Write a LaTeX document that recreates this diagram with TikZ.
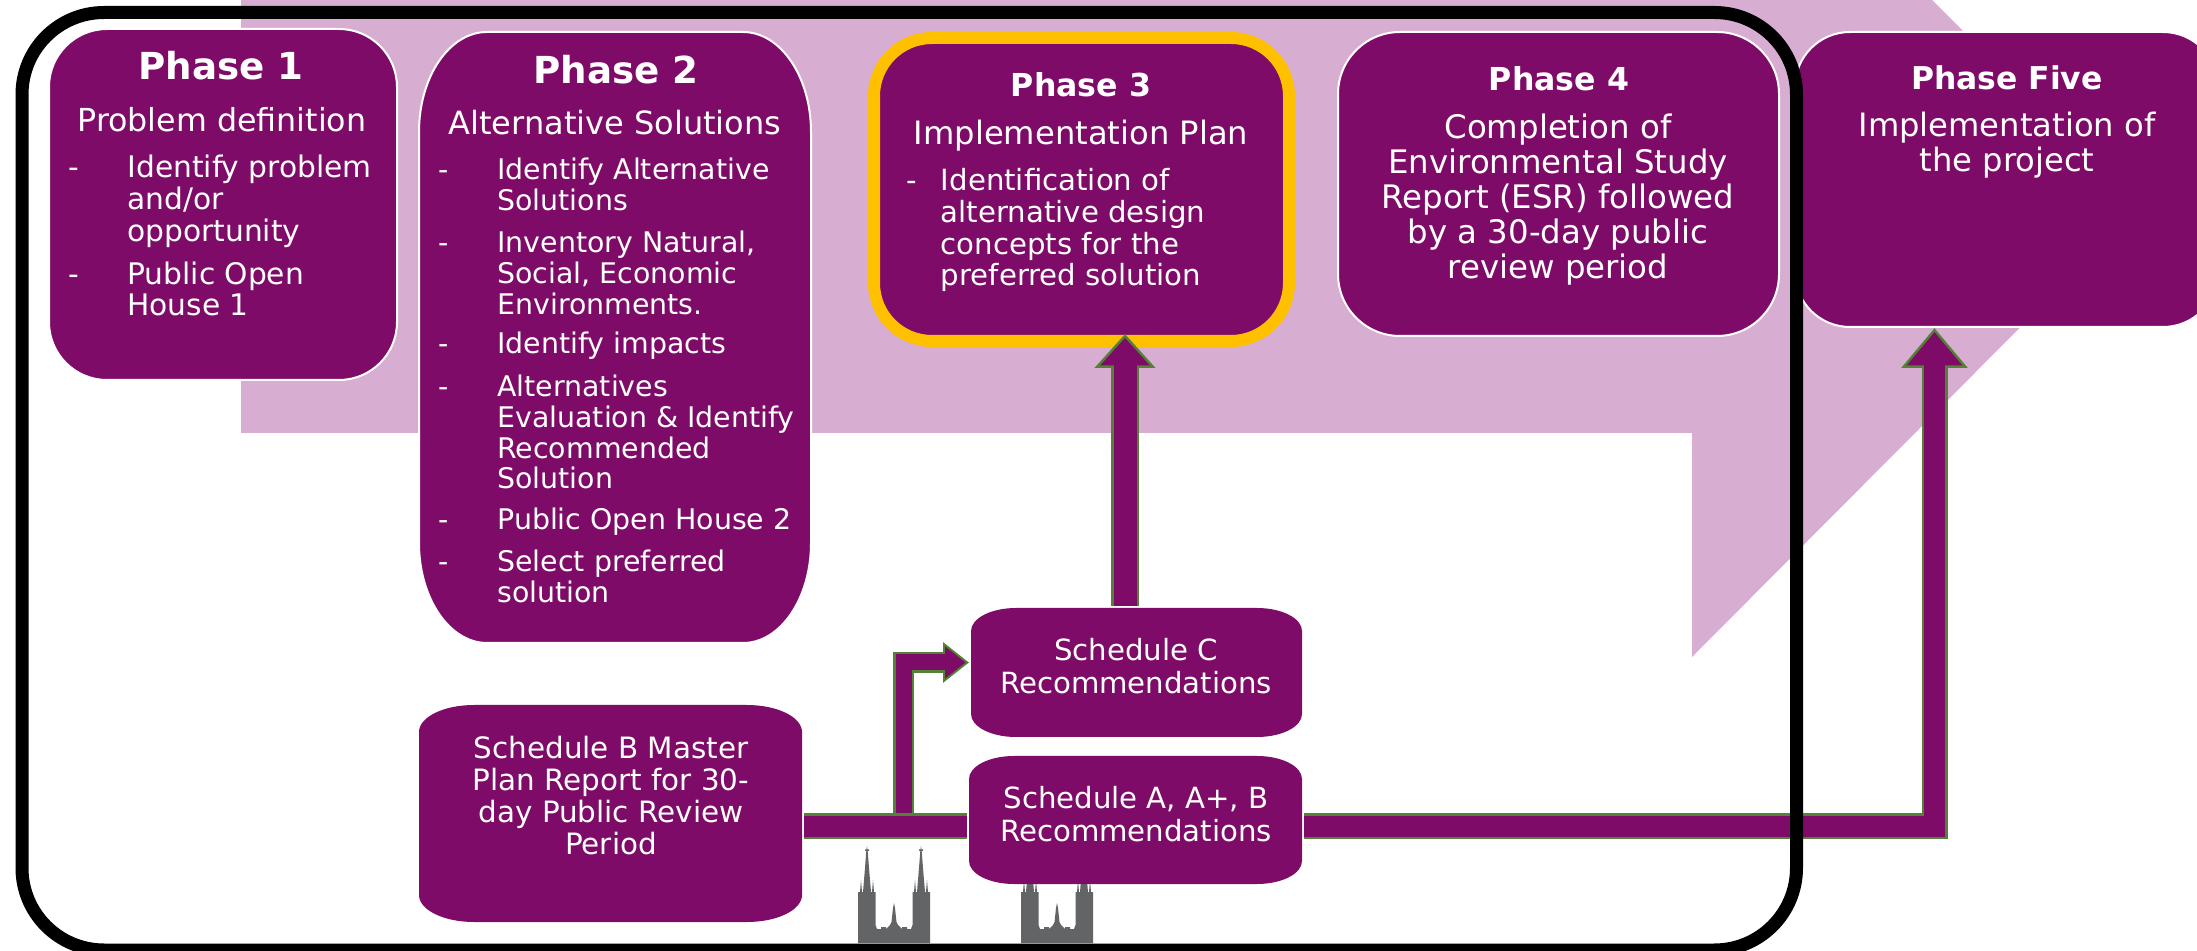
\documentclass[tikz,border=0pt]{standalone}
\usepackage{fontspec}
\setmainfont{DejaVu Sans}
\usetikzlibrary{arrows.meta}
\definecolor{plum}{HTML}{7F0B69}
\definecolor{pinkbg}{HTML}{D7AED2}
\definecolor{arrowgreen}{HTML}{548235}
\definecolor{amber}{HTML}{FFC000}
\definecolor{spire}{HTML}{636466}
\tikzset{
  px/.style={x=0.5pt,y=-0.5pt},
  plumbox/.style={fill=plum,draw=white,line width=1pt},
  plainbox/.style={fill=plum},
  amberbox/.style={fill=plum,draw=amber,line width=6pt},
  framebox/.style={draw=black,line width=6.5pt},
  txt/.style={text=white,inner sep=0pt,anchor=base},
  txtl/.style={text=white,inner sep=0pt,anchor=base west},
  bigO/.style={draw=arrowgreen,line width=13pt,-{Triangle[length=20pt,width=32pt,fill=arrowgreen]}},
  bigI/.style={draw=plum,line width=10.5pt,shorten >=2pt,-{Triangle[length=16.75pt,width=26.8pt,fill=plum]}},
  midO/.style={draw=arrowgreen,line width=14pt,-{Triangle[length=17pt,width=29.5pt,fill=arrowgreen]}},
  midI/.style={draw=plum,line width=11.5pt,shorten >=1.9pt,-{Triangle[length=13.85pt,width=24pt,fill=plum]}},
  smallO/.style={draw=arrowgreen,line width=10.5pt,-{Triangle[length=13pt,width=19.5pt,fill=arrowgreen]}},
  smallI/.style={draw=plum,line width=8pt,shorten >=1.7pt,-{Triangle[length=10.3pt,width=15.5pt,fill=plum]}},
  barO/.style={draw=arrowgreen,line width=13pt},
  barI/.style={draw=plum,line width=10.5pt},
}
\newcommand\rbox[8]{%
  \path[#8] (#2+#6,#3) -- (#4-#6,#3)
    .. controls (#4-.4477*#6,#3) and (#4,#3+.4477*#7) .. (#4,#3+#7) -- (#4,#5-#7)
    .. controls (#4,#5-.4477*#7) and (#4-.4477*#6,#5) .. (#4-#6,#5) -- (#2+#6,#5)
    .. controls (#2+.4477*#6,#5) and (#2,#5-.4477*#7) .. (#2,#5-#7) -- (#2,#3+#7)
    .. controls (#2,#3+.4477*#7) and (#2+.4477*#6,#3) .. (#2+#6,#3) -- cycle;
  \node[inner sep=0pt,minimum width={(#4-#2)*0.5pt},minimum height={(#5-#3)*0.5pt}] (#1) at ({(#2+#4)/2},{(#3+#5)/2}) {};
}
\newcommand\fs[2]{\fontsize{#1}{#2}\selectfont}
\newcommand\cl[1]{\begin{tabular}[t]{@{}c@{}}#1\end{tabular}}
\newcommand\lft[1]{\begin{tabular}[t]{@{}l@{}}#1\end{tabular}}
% church silhouette, left edge at x=#1
\newcommand\church[1]{%
  \begin{scope}[xshift=#1*0.5pt]
  \fill[spire] (0,943) -- (0,892) -- (2,892) -- (3,880) -- (4,892) -- (5,892) -- (7,868) -- (8.3,851) -- (7,851) -- (7,849.5) -- (8.5,849.5) -- (9,846) -- (9.5,849.5) -- (11,849.5) -- (11,851) -- (9.7,851) -- (11,868) -- (13,892) -- (14,892) -- (15,880) -- (16,892) -- (17.5,892)
    -- (17.5,925) -- (19,929) -- (23,929) -- (23,927) -- (28,927) -- (28,929) -- (32,925) -- (33.5,922) -- (35,908) -- (36,903) -- (37,908) -- (38.5,922) -- (40,925) -- (44,929) -- (44,927) -- (49,927) -- (49,929) -- (53,929) -- (54.5,925)
    -- (54.5,892) -- (56,892) -- (57,880) -- (58,892) -- (59,892) -- (61,868) -- (62.3,851) -- (61,851) -- (61,849.5) -- (62.5,849.5) -- (63,846) -- (63.5,849.5) -- (65,849.5) -- (65,851) -- (63.7,851) -- (65,868) -- (67,892) -- (68,892) -- (69,880) -- (70,892) -- (72,892) -- (72,943) -- cycle;
  \end{scope}
}
\begin{document}
\begin{tikzpicture}[px]
\useasboundingbox (0,0) rectangle (2197,951);
\clip (0,0) rectangle (2197,951);
\fill[white] (0,0) rectangle (2197,951);
\fill[pinkbg] (241,-5) -- (1927,-5) -- (2139.5,207.5) -- (1692,657) -- (1692,433) -- (241,433) -- cycle;
\church{858}
\church{1021}
% boxes
\rbox{ph1}{49}{29}{397}{380}{58}{58}{plumbox}
\rbox{ph2}{419}{32}{811}{643}{68}{100}{plumbox}
\rbox{ph3}{874}{38}{1289}{341}{58}{58}{amberbox}
\rbox{ph4}{1338}{32}{1779}{336}{62}{62}{plumbox}
\rbox{ph5}{1795}{32}{2218}{327}{55}{55}{plumbox}
\rbox{schB}{419}{705}{802}{922}{55}{27}{plainbox}
\rbox{schC}{971}{608}{1302}{737}{45}{23}{plainbox}
\rbox{schA}{969}{756}{1302}{884}{45}{23}{plainbox}
% connectors
\coordinate (barY) at (0,826.5);
\coordinate (branch) at (903.5,826.5);
\coordinate (cIn) at (969,662.5);
\coordinate (cOut) at (1125,606);
\coordinate (p3In) at (1125,334);
\coordinate (p5In) at (1934.5,328);
\draw[smallO] (branch) |- (cIn);
\draw[smallI] (branch) |- (cIn);
\draw[barO] ([xshift=1pt]schB.east |- barY) -- ([xshift=-1pt]schA.west |- barY);
\draw[barI] ([xshift=1pt]schB.east |- barY) -- ([xshift=-1pt]schA.west |- barY);
\draw[bigO] ([xshift=1pt]schA.east |- barY) -| (p5In);
\draw[bigI] ([xshift=1pt]schA.east |- barY) -| (p5In);
\draw[midO] (cOut) -- (p3In);
\draw[midI] (cOut) -- (p3In);
% frame
\rbox{frame}{22}{12.5}{1796.5}{950}{82}{82}{framebox}
% Phase 1
\node[txt,font=\fs{18.6}{18}\bfseries] (t1a) at (221,80) {Phase 1};
\node[txt,font=\fs{15.85}{16}] (t1b) at (222,132) {Problem definition};
\node[txtl,font=\fs{14.85}{15.25}] (d1a) at (68,178) {-};
\node[txtl,font=\fs{14.85}{15.25}] (t1c) at (127,178) {\lft{Identify problem\\and/or\\opportunity}};
\node[txtl,font=\fs{14.85}{15.25}] (d1b) at (68,285) {-};
\node[txtl,font=\fs{14.85}{15.25}] (t1d) at (127,285) {\lft{Public Open\\House 1}};
% Phase 2
\node[txt,font=\fs{18.6}{18}\bfseries] (t2a) at (616,84) {Phase 2};
\node[txt,font=\fs{16}{16}] (t2b) at (615,135) {Alternative Solutions};
\node[txtl,font=\fs{14.2}{15.1}] (d2a) at (438,180) {-};
\node[txtl,font=\fs{14.2}{15.1}] (t2c) at (497,180) {\lft{Identify Alternative\\Solutions}};
\node[txtl,font=\fs{14.2}{15.1}] (d2b) at (438,253) {-};
\node[txtl,font=\fs{14.2}{15.1}] (t2d) at (497,253) {\lft{Inventory Natural,\\Social, Economic\\Environments.}};
\node[txtl,font=\fs{14.2}{15.1}] (d2c) at (438,354) {-};
\node[txtl,font=\fs{14.2}{15.1}] (t2e) at (497,354) {Identify impacts};
\node[txtl,font=\fs{14.2}{15.1}] (d2d) at (438,397) {-};
\node[txtl,font=\fs{14.2}{15.1}] (t2f) at (497,397) {\lft{Alternatives\\Evaluation \& Identify\\Recommended\\Solution}};
\node[txtl,font=\fs{14.2}{15.1}] (d2e) at (438,530) {-};
\node[txtl,font=\fs{14.2}{15.1}] (t2g) at (497,530) {Public Open House 2};
\node[txtl,font=\fs{14.2}{15.1}] (d2f) at (438,572) {-};
\node[txtl,font=\fs{14.2}{15.1}] (t2h) at (497,572) {\lft{Select preferred\\solution}};
% Phase 3
\node[txt,font=\fs{15.8}{16}\bfseries] (t3a) at (1081,97) {Phase 3};
\node[txt,font=\fs{16.1}{16}] (t3b) at (1081,145) {Implementation Plan};
\node[txtl,font=\fs{14.6}{15.75}] (d3a) at (906,191) {-};
\node[txtl,font=\fs{14.6}{15.75}] (t3c) at (940.5,191) {\lft{Identification of\\alternative design\\concepts for the\\preferred solution}};
% Phase 4
\node[txt,font=\fs{15.8}{16}\bfseries] (t4a) at (1559,91) {Phase 4};
\node[txt,font=\fs{16.2}{16.9}] (t4b) at (1558,139) {\cl{Completion of\\Environmental Study\\Report (ESR) followed\\by a 30-day public\\review period}};
% Phase 5
\node[txt,font=\fs{15.7}{16}\bfseries] (t5a) at (2007,90) {Phase Five};
\node[txt,font=\fs{16.1}{17.3}] (t5b) at (2007,137) {\cl{Implementation of\\the project}};
% Schedules
\node[txt,font=\fs{14.7}{15.8}] (tB) at (611,759) {\cl{Schedule B Master\\Plan Report for 30-\\day Public Review\\Period}};
\node[txt,font=\fs{14.6}{16.5}] (tC) at (1136,661) {\cl{Schedule C\\Recommendations}};
\node[txt,font=\fs{14.6}{16.5}] (tA) at (1136,809) {\cl{Schedule A, A+, B\\Recommendations}};
\end{tikzpicture}
\end{document}
